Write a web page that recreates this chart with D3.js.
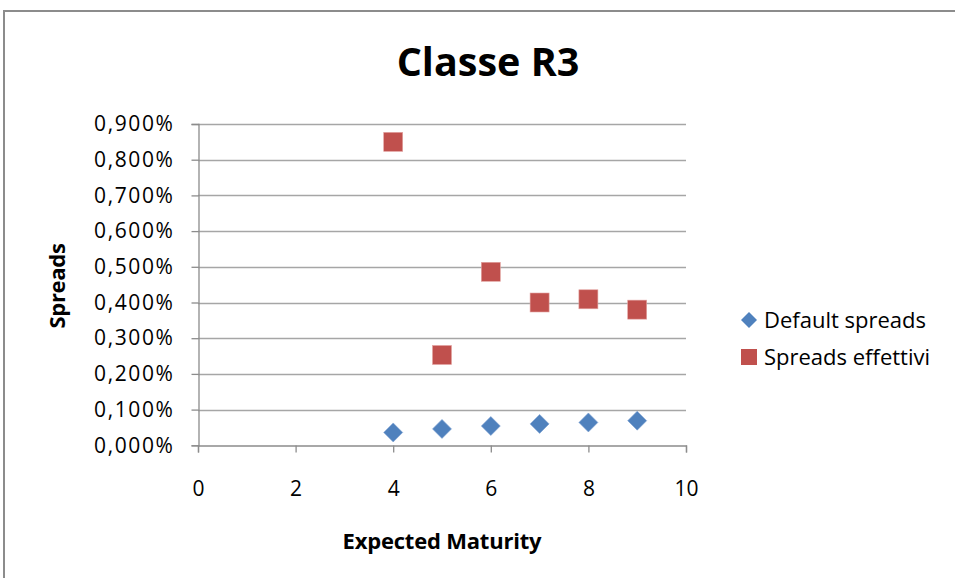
<!DOCTYPE html>
<html>
<head>
<meta charset="utf-8">
<script src="https://cdn.jsdelivr.net/npm/d3@7"></script>
<style>
  html, body { margin: 0; padding: 0; background: #fff; }
  svg { display: block; }
  text { font-family: "Open Sans", "DejaVu Sans", sans-serif; fill: #000; }
</style>
</head>
<body>
<script>
// Expected maturity (years)
const maturities = [4, 5, 6, 7, 8, 9];
// Spreads in percent
const defaultSpreads = [0.036, 0.046, 0.054, 0.060, 0.064, 0.069];
const effectiveSpreads = [0.850, 0.253, 0.486, 0.400, 0.409, 0.380];
const xTicks = [0, 2, 4, 6, 8, 10];
const yTicks = [0, 0.1, 0.2, 0.3, 0.4, 0.5, 0.6, 0.7, 0.8, 0.9];
const seriesNames = ["Default spreads", "Spreads effettivi"];

const W = 955, H = 578;
const blue = "#4F81BD", red = "#C0504D";

const svg = d3.select("body").append("svg").attr("width", W).attr("height", H);

// outer chart frame
svg.append("rect").attr("x", 4).attr("y", 11).attr("width", W + 10).attr("height", H + 10)
  .attr("fill", "#fff").attr("stroke", "#8c8c8c").attr("stroke-width", 2);

const x = d3.scaleLinear().domain([0, 10]).range([198, 686]);
const y = d3.scaleLinear().domain([0, 0.9]).range([445.3, 124]);

const fmt = v => d3.format(".3f")(v).replace(".", ",") + "%";

// horizontal gridlines
svg.append("g").selectAll("line").data(yTicks.filter(d => d > 0)).join("line")
  .attr("x1", x(0)).attr("x2", x(10))
  .attr("y1", d => Math.round(y(d)) + 0.5).attr("y2", d => Math.round(y(d)) + 0.5)
  .attr("stroke", "#a6a6a6").attr("stroke-width", 1.3);

// y axis
const yAxis = svg.append("g").attr("transform", `translate(${Math.round(x(0)) + 0.5},0)`)
  .call(d3.axisLeft(y).tickValues(yTicks).tickFormat(fmt).tickSize(7).tickPadding(17));
yAxis.select(".domain").attr("stroke", "#8c8c8c").attr("stroke-width", 1.3);
yAxis.selectAll(".tick line").attr("stroke", "#8c8c8c").attr("stroke-width", 1.3);
yAxis.selectAll(".tick text").attr("font-size", 21).attr("letter-spacing", 1.6)
  .attr("font-family", "Open Sans, sans-serif").attr("fill", "#222");

// x axis
const xAxis = svg.append("g").attr("transform", `translate(0,${Math.round(y(0)) + 0.5})`)
  .call(d3.axisBottom(x).tickValues(xTicks).tickSize(7).tickPadding(29));
xAxis.select(".domain").attr("stroke", "#8c8c8c").attr("stroke-width", 1.3);
xAxis.selectAll(".tick line").attr("stroke", "#8c8c8c").attr("stroke-width", 1.3);
xAxis.selectAll(".tick text").attr("font-size", 21)
  .attr("font-family", "Open Sans, sans-serif").attr("fill", "#222");

// default spreads: diamonds
const diamond = s => `M0,${-s}L${s},0L0,${s}L${-s},0Z`;
svg.append("g").selectAll("path").data(maturities).join("path")
  .attr("d", diamond(9.5))
  .attr("transform", (d, i) => `translate(${x(d)},${y(defaultSpreads[i])})`)
  .attr("fill", blue).attr("stroke", "#7fa3d4").attr("stroke-width", 0.6);

// effective spreads: squares
svg.append("g").selectAll("rect").data(maturities).join("rect")
  .attr("x", d => x(d) - 9.5).attr("width", 19).attr("height", 19)
  .attr("y", (d, i) => y(effectiveSpreads[i]) - 9.5)
  .attr("fill", red).attr("stroke", "#e3a3a1").attr("stroke-width", 0.6);

// title
svg.append("text").attr("x", 488).attr("y", 76).attr("text-anchor", "middle")
  .attr("font-size", 39.5).attr("font-weight", "bold").text("Classe R3");

// axis titles
svg.append("text").attr("x", 442).attr("y", 549).attr("text-anchor", "middle")
  .attr("font-size", 22).attr("font-weight", "bold").attr("letter-spacing", -0.2).text("Expected Maturity");
svg.append("text").attr("transform", "translate(65,286) rotate(-90)").attr("text-anchor", "middle")
  .attr("font-size", 22).attr("font-weight", "bold").attr("letter-spacing", -0.3).text("Spreads");

// legend
const lg = svg.append("g");
lg.append("path").attr("d", diamond(8)).attr("transform", "translate(749,320)").attr("fill", blue);
lg.append("rect").attr("x", 741).attr("y", 349).attr("width", 16).attr("height", 16).attr("fill", red);
lg.selectAll("text.leg").data(seriesNames).join("text").attr("class", "leg")
  .attr("x", 764).attr("y", (d, i) => 320 + i * 37).attr("dy", "0.35em")
  .attr("font-size", 22).attr("fill", "#222").text(d => d);
</script>
</body>
</html>
